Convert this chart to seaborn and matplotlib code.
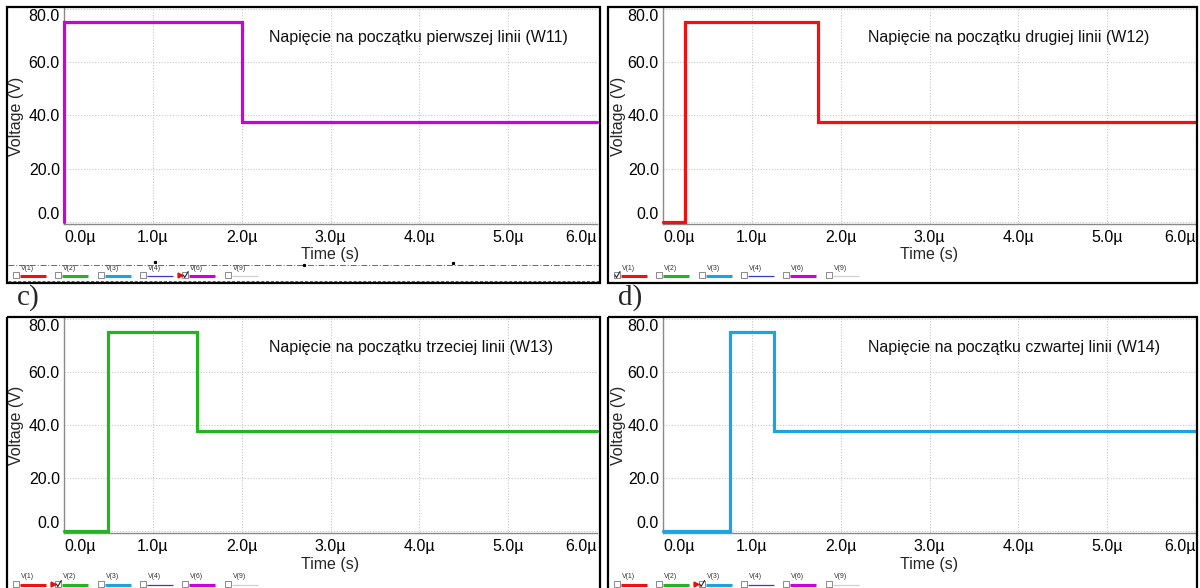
import numpy as np
import pandas as pd
import matplotlib
matplotlib.use('Agg')
import matplotlib.pyplot as plt
import seaborn as sns
from matplotlib.patches import Rectangle

# --- data (time in microseconds, voltage in volts) ---
t_w11 = [0.0, 0.0, 2.0, 2.0, 6.0]
v_w11 = [0.0, 75.0, 75.0, 37.5, 37.5]

t_w12 = [0.0, 0.25, 0.25, 1.75, 1.75, 6.0]
v_w12 = [0.0, 0.0, 75.0, 75.0, 37.5, 37.5]

t_w13 = [0.0, 0.5, 0.5, 1.5, 1.5, 6.0]
v_w13 = [0.0, 0.0, 75.0, 75.0, 37.5, 37.5]

t_w14 = [0.0, 0.75, 0.75, 1.25, 1.25, 6.0]
v_w14 = [0.0, 0.0, 75.0, 75.0, 37.5, 37.5]

titles = ['Napięcie na początku pierwszej linii (W11)',
          'Napięcie na początku drugiej linii (W12)',
          'Napięcie na początku trzeciej linii (W13)',
          'Napięcie na początku czwartej linii (W14)']
trace_colors = ['#cc00dd', '#f01010', '#22b422', '#1ba3e3']

x_ticks = [0, 1, 2, 3, 4, 5, 6]
x_ticklabels = ['0.0µ', '1.0µ', '2.0µ', '3.0µ', '4.0µ', '5.0µ', '6.0µ']
y_ticks = [0, 20, 40, 60, 80]
y_ticklabels = ['0.0', '20.0', '40.0', '60.0', '80.0']

legend_names = ['V(1)', 'V(2)', 'V(3)', 'V(4)', 'V(6)', 'V(9)']
legend_colors = ['#f01010', '#22b422', '#1ba3e3', '#3a3ac8', '#cc00dd', '#cfcfcf']
legend_widths = [2.2, 2.2, 2.2, 0.9, 2.2, 0.9]
checked = [4, 0, 1, 2]          # which legend entry is ticked in each panel
red_flag = [True, False, True, True]

series = [(t_w11, v_w11), (t_w12, v_w12), (t_w13, v_w13), (t_w14, v_w14)]

# --- layout in pixels (1200 x 588) ---
W, H = 1200, 588
borders = [(7, 7, 600, 283), (608, 7, 1197, 283),
           (7, 317, 600, 595), (608, 317, 1197, 595)]
axboxes = [(64, 8, 597, 224), (663, 8, 1196, 224),
           (64, 318, 597, 533), (663, 318, 1196, 533)]

sns.set_style('white')
plt.rcParams['font.family'] = ['Liberation Sans', 'DejaVu Sans']

fig = plt.figure(figsize=(12, 5.88), dpi=100)

for i, ((t, v), (x0, y0, x1, y1)) in enumerate(zip(series, axboxes)):
    ax = fig.add_axes([x0 / W, 1 - y1 / H, (x1 - x0) / W, (y1 - y0) / H])
    df = pd.DataFrame({'t': t, 'v': v})
    sns.lineplot(data=df, x='t', y='v', sort=False, estimator=None,
                 color=trace_colors[i], linewidth=2.3, ax=ax, zorder=5)
    for ln in ax.lines:
        ln.set_clip_on(False)
        ln.set_solid_joinstyle('miter')
    ax.set_xlim(0, 6.0)
    ax.set_ylim(-0.8, 80.3)
    ax.set_xticks(x_ticks)
    ax.set_xticklabels(x_ticklabels)
    ax.set_yticks(y_ticks)
    ax.set_yticklabels(y_ticklabels)
    ax.set_xlabel('')
    ax.set_ylabel('')
    ax.tick_params(axis='both', length=0, labelsize=11.5, colors='black')
    ax.tick_params(axis='x', pad=4)
    ax.tick_params(axis='y', pad=3)
    ax.xaxis.get_ticklabels()[0].set_horizontalalignment('left')
    ax.xaxis.get_ticklabels()[-1].set_horizontalalignment('right')
    ax.yaxis.get_ticklabels()[0].set_verticalalignment('bottom')
    ax.yaxis.get_ticklabels()[-1].set_verticalalignment('top')
    ax.grid(True, color='#c8c8c8', linestyle=(0, (1, 1.5)), linewidth=0.8)
    for s in ['top', 'right']:
        ax.spines[s].set_visible(False)
    for s in ['left', 'bottom']:
        ax.spines[s].set_color('#8a8a8a')
        ax.spines[s].set_linewidth(1.0)
    ax.text(0.385, 0.865, titles[i], transform=ax.transAxes, ha='left',
            va='center', fontsize=11.5, color='#111111')

# overlay in pixel coordinates for the frame pieces
ov = fig.add_axes([0, 0, 1, 1], zorder=20)
ov.set_xlim(0, W)
ov.set_ylim(H, 0)
ov.axis('off')

for i, ((bx0, by0, bx1, by1), (x0, y0, x1, y1)) in enumerate(zip(borders, axboxes)):
    ov.add_patch(Rectangle((bx0, by0), bx1 - bx0, by1 - by0, fill=False,
                           edgecolor='black', linewidth=1.6, zorder=5))
    ov.text((x0 + x1) / 2, y1 + 31, 'Time (s)', ha='center', va='center',
            fontsize=11.5)
    ov.text(bx0 + 10, (y0 + y1) / 2, 'Voltage (V)', ha='center', va='center',
            rotation=90, fontsize=11.5)

    # bottom legend row
    cy = y1 + 51
    for k, name in enumerate(legend_names):
        cb = bx0 + 6 + k * 42.3
        ov.add_patch(Rectangle((cb, cy - 3), 6, 6, fill=False,
                               edgecolor='#777777', linewidth=0.6, zorder=3))
        ov.plot([cb + 7, cb + 33], [cy + 1, cy + 1], color=legend_colors[k],
                linewidth=legend_widths[k], solid_capstyle='butt', zorder=3)
        ov.text(cb + 8, cy - 7, name, fontsize=5, ha='left', va='center',
                color='#333333')
        if k == checked[i]:
            ov.plot([cb + 1, cb + 2.5, cb + 6], [cy, cy + 2.5, cy - 3.5],
                    color='#222222', linewidth=0.8, zorder=4)
            if red_flag[i]:
                ov.plot([cb - 2.5], [cy], marker='>', markersize=3.5,
                        color='#e01010', zorder=4)

# extra dash-dot separator in the first panel
ov.plot([8, 599], [265, 265], color='#666666', linewidth=0.7,
        linestyle=(0, (6, 2, 1, 2)), zorder=3)
ov.plot([8, 599], [281, 281], color='#666666', linewidth=0.7,
        linestyle=(0, (3, 2)), zorder=3)
ov.plot([155, 304, 453], [262, 265, 263], 's', color='black', markersize=1.3,
        zorder=3)

# sub-figure letters
ov.text(28, 298, 'c)', fontsize=21, ha='center', va='center',
        family=['Liberation Serif', 'DejaVu Serif'])
ov.text(630, 298, 'd)', fontsize=21, ha='center', va='center',
        family=['Liberation Serif', 'DejaVu Serif'])

plt.savefig('out.png', dpi=100)
